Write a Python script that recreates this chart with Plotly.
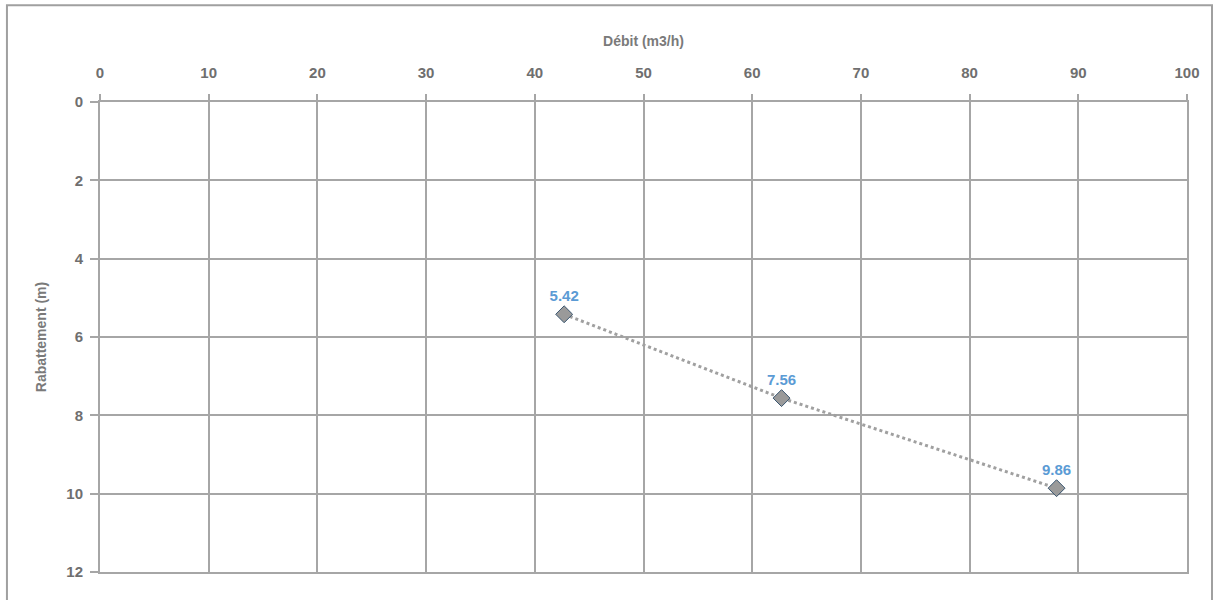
import plotly.graph_objects as go

debit = [42.7, 62.7, 88.0]
rabattement = [5.42, 7.56, 9.86]
labels = ["5.42", "7.56", "9.86"]

fig = go.Figure()
fig.add_trace(go.Scatter(
    x=debit, y=rabattement, mode="lines+markers+text",
    text=labels, textposition="top center",
    textfont=dict(family="Liberation Sans", size=15, color="#5b9bd5", weight="bold"),
    line=dict(color="#a0a0a0", width=3, dash="dot"),
    marker=dict(symbol="diamond", size=13, color="#9a9a9a",
                line=dict(color="#3a5670", width=1)),
    cliponaxis=False, showlegend=False,
))

axis_font = dict(family="Liberation Sans", size=15, color="#6f6f6f", weight="bold")
title_font = dict(family="Liberation Sans", size=14, color="#7a7a7a", weight="bold")
fig.update_layout(
    width=1217, height=600,
    margin=dict(l=100, r=30, t=102, b=28),
    paper_bgcolor="white", plot_bgcolor="white",
    xaxis=dict(
        side="top", range=[0, 100], dtick=10, tick0=0,
        showgrid=True, gridcolor="#a6a6a6", gridwidth=2,
        showline=True, linecolor="#a6a6a6", linewidth=2, mirror=True,
        ticks="outside", ticklen=6, tickcolor="#a6a6a6", tickwidth=2,
        ticklabelstandoff=10,
        tickfont=axis_font, zeroline=False,
        title=dict(text="Débit (m3/h)", font=title_font, standoff=14),
    ),
    yaxis=dict(
        range=[12, 0], dtick=2, tick0=0,
        showgrid=True, gridcolor="#a6a6a6", gridwidth=2,
        showline=True, linecolor="#a6a6a6", linewidth=2, mirror=True,
        ticks="outside", ticklen=8, tickcolor="#a6a6a6", tickwidth=2,
        ticklabelstandoff=4,
        tickfont=axis_font, zeroline=False,
        title=dict(text="Rabattement (m)", font=title_font, standoff=16),
    ),
    shapes=[dict(type="rect", xref="paper", yref="paper",
                 x0=-0.0856, x1=1.023, y0=-0.07, y1=1.206,
                 line=dict(color="#a0a0a0", width=2))],
)

fig.write_html("out.html")
